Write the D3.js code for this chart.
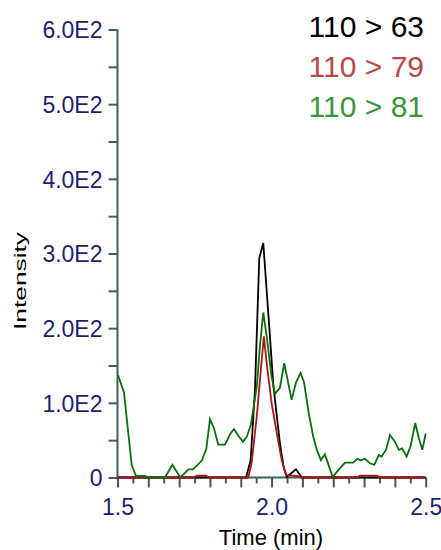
<!DOCTYPE html>
<html>
<head>
<meta charset="utf-8">
<script src="https://cdn.jsdelivr.net/npm/d3@7"></script>
<style>
  html, body { margin: 0; padding: 0; background: #fff; }
  svg { display: block; }
</style>
</head>
<body>
<svg id="chart" width="441" height="550"></svg>
<script>
// Retention time (min) and intensity for each MRM transition
const trace63Time = [1.500, 1.917, 1.932, 1.946, 1.960, 1.973, 1.993, 2.006, 2.027, 2.040, 2.050, 2.079, 2.098, 2.500];
const trace63Val  = [0,     0,     23,    117,   294,   314,   198,   122,   46,    12,    1,     11,    0,     0];

const trace79Time = [1.500, 1.748, 1.758, 1.787, 1.797, 1.924, 1.935, 1.952, 1.965, 1.975, 1.984, 2.000, 2.017, 2.033, 2.047, 2.081, 2.098, 2.277, 2.287, 2.342, 2.352, 2.500];
const trace79Val  = [0,     0,     2.5,   2.5,   0,     0,     19,    82,    144,   189,   153,   100,   59,    23,    3,     2,     0,     0,     2.5,   2.5,   0,     0];

const trace81Time = [1.502, 1.521, 1.546, 1.560, 1.589, 1.600, 1.654, 1.678, 1.704, 1.730, 1.745, 1.760, 1.774, 1.788,
                     1.800, 1.813, 1.827, 1.849, 1.865, 1.878, 1.892, 1.907, 1.920, 1.933, 1.952, 1.962, 1.973, 1.984,
                     2.000, 2.011, 2.027, 2.041, 2.065, 2.079, 2.094, 2.105, 2.121, 2.135, 2.147, 2.160, 2.173, 2.198,
                     2.238, 2.265, 2.278, 2.289, 2.303, 2.319, 2.333, 2.348, 2.357, 2.371, 2.384, 2.400, 2.413, 2.424,
                     2.438, 2.451, 2.466, 2.477, 2.489, 2.500];
const trace81Val  = [137,   114,   17,    2,     2,     0,     0,     17,    0,     11,    11,    17,    23,    38,
                     78,    66,    44,    44,    58,    65,    56,    48,    55,    71,    122,   175,   221,   189,
                     135,   112,   120,   153,   104,   127,   140,   128,   85,    55,    37,    23,    31,    1,
                     20,    20,    25,    23,    25,    19,    17,    30,    28,    37,    57,    48,    37,    39,
                     28,    42,    73,    54,    37,    59];

const legendLabels = ["110 > 63", "110 > 79", "110 > 81"];
const yTickValues = [0, 100, 200, 300, 400, 500, 600];
const yTickLabels = ["0", "1.0E2", "2.0E2", "3.0E2", "4.0E2", "5.0E2", "6.0E2"];
const xTickValues = [1.5, 2.0, 2.5];
const xTickLabels = ["1.5", "2.0", "2.5"];

const series = [
  { time: trace63Time, val: trace63Val, line: "#000000", text: "#000000" },
  { time: trace79Time, val: trace79Val, line: "#a51616", text: "#b94a48" },
  { time: trace81Time, val: trace81Val, line: "#0c6e0c", text: "#3c963c" }
];

const svg = d3.select("#chart");
const axisColor = "#415e5e";
const tickFont = "'Liberation Sans Narrow', 'Arial Narrow', 'Liberation Sans', Arial, sans-serif";

const x = d3.scaleLinear().domain([1.5, 2.5]).range([117.5, 425.7]);
const y = d3.scaleLinear().domain([0, 600]).range([477.5, 29.5]);

// Y axis: labelled ticks every 100, minor ticks halfway between
const yAxis = d3.axisLeft(y)
  .tickValues(d3.range(0, 601, 50))
  .tickSize(9)
  .tickFormat(d => { const i = yTickValues.indexOf(d); return i >= 0 ? yTickLabels[i] : ""; });

const gy = svg.append("g").attr("transform", `translate(${x(1.5)},0)`).call(yAxis);
gy.select(".domain").attr("stroke", axisColor).attr("stroke-width", 2).attr("d", `M0,${y(600)}V${y(0) + 2}`);
gy.selectAll(".tick line").attr("stroke", axisColor).attr("stroke-width", 2);
gy.selectAll(".tick text")
  .attr("x", -15)
  .attr("dy", "0.36em")
  .attr("fill", "#1e1e6e")
  .style("font-family", tickFont)
  .style("font-size", "23px");

// X axis: labelled ticks at 0.5 min, ticks every 0.1 and 0.05 min
const xMinor = d3.range(0, 21).map(i => +(1.5 + i * 0.05).toFixed(2));
const xAxis = d3.axisBottom(x)
  .tickValues(xMinor)
  .tickSize(0)
  .tickFormat(d => { const i = xTickValues.findIndex(v => Math.abs(v - d) < 1e-6); return i >= 0 ? xTickLabels[i] : ""; });

const gx = svg.append("g").attr("transform", `translate(0,${y(0)})`).call(xAxis);
gx.select(".domain").attr("stroke", axisColor).attr("stroke-width", 2).attr("d", `M${x(1.5)},0H${x(2.5)}`);
gx.selectAll(".tick line")
  .attr("stroke", axisColor)
  .attr("stroke-width", 2)
  .attr("y2", (d, i) => (i % 2 === 0 ? 10 : 6));
gx.selectAll(".tick text")
  .attr("y", 21)
  .attr("dy", "0.71em")
  .attr("fill", "#1e1e6e")
  .style("font-family", tickFont)
  .style("font-size", "23px");

// Traces
const line = d3.line().x(d => x(d[0])).y(d => y(d[1]));
series.forEach(s => {
  const pts = s.time.map((t, i) => [t, s.val[i]]);
  svg.append("path")
    .datum(pts)
    .attr("fill", "none")
    .attr("stroke", s.line)
    .attr("stroke-width", 1.8)
    .attr("stroke-linejoin", "miter")
    .attr("d", line);
});

// Axis titles
svg.append("text")
  .attr("x", 271)
  .attr("y", 544.5)
  .attr("text-anchor", "middle")
  .attr("fill", "#000")
  .style("font-family", tickFont)
  .style("font-size", "22px")
  .text("Time (min)");

svg.append("text")
  .attr("transform", "translate(25.5,281) rotate(-90)")
  .attr("text-anchor", "middle")
  .attr("fill", "#000")
  .attr("textLength", 98)
  .attr("lengthAdjust", "spacingAndGlyphs")
  .style("font-family", "'Liberation Sans', Arial, sans-serif")
  .style("font-size", "17px")
  .text("Intensity");

// Legend
svg.append("g").selectAll("text")
  .data(legendLabels)
  .join("text")
  .attr("x", 424)
  .attr("y", (d, i) => 36.5 + i * 40)
  .attr("text-anchor", "end")
  .attr("fill", (d, i) => series[i].text)
  .style("font-family", "'Liberation Sans', Arial, sans-serif")
  .style("font-size", "30px")
  .text(d => d);
</script>
</body>
</html>
